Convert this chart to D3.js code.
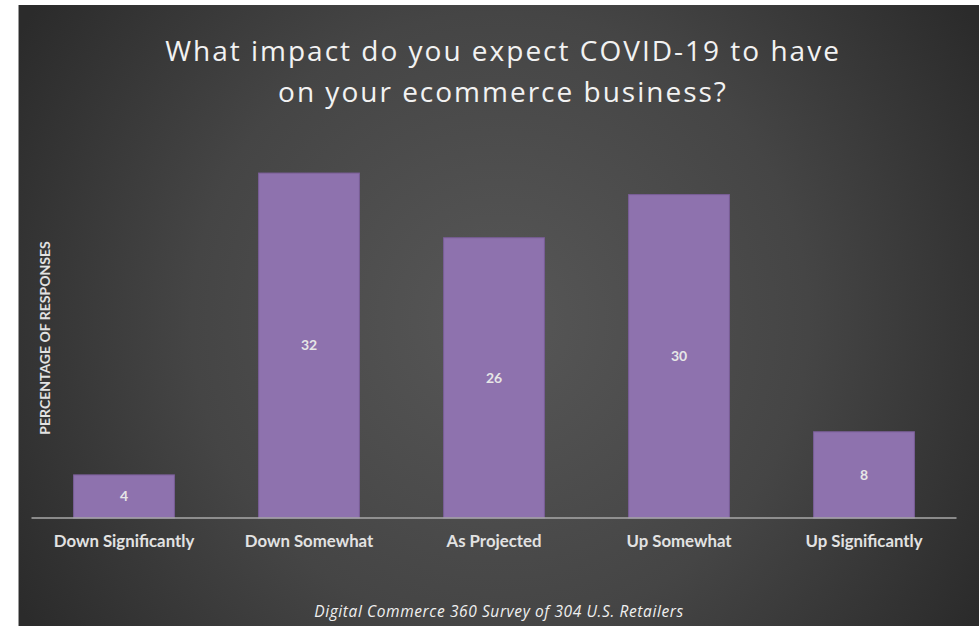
<!DOCTYPE html>
<html>
<head>
<meta charset="utf-8">
<script src="https://cdn.jsdelivr.net/npm/d3@7"></script>
<style>
  html, body { margin: 0; padding: 0; background: #ffffff; }
  svg { display: block; }
</style>
</head>
<body>
<svg id="chart" width="979" height="626"></svg>
<script>
// Survey responses (percent)
const categories = ["Down Significantly", "Down Somewhat", "As Projected", "Up Somewhat", "Up Significantly"];
const values = [4, 32, 26, 30, 8];
const titleLines = ["What impact do you expect COVID-19 to have", "on your ecommerce business?"];
const yAxisTitle = "PERCENTAGE OF RESPONSES";
const sourceNote = "Digital Commerce 360 Survey of 304 U.S. Retailers";

const W = 979, H = 626;
const svg = d3.select("#chart");

// Dark panel with a soft radial glow
const defs = svg.append("defs");
const grad = defs.append("radialGradient")
  .attr("id", "bg").attr("gradientUnits", "userSpaceOnUse")
  .attr("cx", 500).attr("cy", 320).attr("r", 560);
grad.append("stop").attr("offset", "0%").attr("stop-color", "#575757");
grad.append("stop").attr("offset", "55%").attr("stop-color", "#454545");
grad.append("stop").attr("offset", "100%").attr("stop-color", "#2b2b2b");

const panel = { x: 18, y: 5, w: W - 18, h: H - 5 };
svg.append("rect")
  .attr("x", panel.x).attr("y", panel.y)
  .attr("width", panel.w).attr("height", panel.h)
  .attr("fill", "url(#bg)");
svg.append("line")
  .attr("x1", panel.x + 0.5).attr("x2", panel.x + 0.5)
  .attr("y1", panel.y).attr("y2", H)
  .attr("stroke", "#9a9a9a").attr("stroke-width", 1);

// Scales
const plot = { left: 31.5, right: 956.5, top: 140.7, bottom: 518 };
const x = d3.scaleBand().domain(categories).range([plot.left, plot.right]).paddingInner(0.455).paddingOuter(0.2275);
const y = d3.scaleLinear().domain([0, 35]).range([plot.bottom, plot.top]);

// Bars
const bars = svg.append("g");
bars.selectAll("rect").data(values).join("rect")
  .attr("x", (d, i) => x(categories[i]))
  .attr("y", d => y(d))
  .attr("width", x.bandwidth())
  .attr("height", d => y(0) - y(d))
  .attr("fill", "#8e72ae")
  .attr("stroke", "#7a5e98")
  .attr("stroke-width", 1);

// Value labels centred inside each bar
bars.selectAll("text").data(values).join("text")
  .attr("x", (d, i) => x(categories[i]) + x.bandwidth() / 2)
  .attr("y", d => (y(d) + y(0)) / 2)
  .attr("dy", "0.35em")
  .attr("text-anchor", "middle")
  .attr("font-family", "Lato, 'Open Sans', sans-serif")
  .attr("font-weight", "bold")
  .attr("font-size", 14)
  .attr("fill", "#e6e6e6")
  .text(d => d);

// Category axis
const xAxis = svg.append("g")
  .attr("transform", `translate(0,${plot.bottom})`)
  .call(d3.axisBottom(x).tickSize(0).tickPadding(17));
xAxis.select(".domain").attr("stroke", "#a8a8a8").attr("stroke-width", 1.5)
  .attr("d", `M${plot.left},0H${plot.right}`);
xAxis.selectAll("text")
  .attr("font-family", "Lato, 'Open Sans', sans-serif")
  .attr("font-weight", "bold")
  .attr("font-size", 16.8)
  .attr("fill", "#e2e2e2");

// Title
svg.append("g").selectAll("text").data(titleLines).join("text")
  .attr("x", 503)
  .attr("y", (d, i) => 61 + i * 41)
  .attr("text-anchor", "middle")
  .attr("font-family", "'Open Sans', sans-serif")
  .attr("font-size", 28)
  .attr("letter-spacing", 2)
  .attr("fill", "#f2f2f2")
  .text(d => d);

// Y axis title
svg.append("text")
  .attr("transform", "translate(50,338) rotate(-90)")
  .attr("text-anchor", "middle")
  .attr("font-family", "Lato, 'Open Sans', sans-serif")
  .attr("font-weight", "bold")
  .attr("font-size", 14)
  .attr("fill", "#e2e2e2")
  .text(yAxisTitle);

// Source note
svg.append("text")
  .attr("x", 499).attr("y", 617)
  .attr("text-anchor", "middle")
  .attr("font-family", "'Open Sans', sans-serif")
  .attr("font-style", "italic")
  .attr("font-size", 15.5)
  .attr("letter-spacing", 0.6)
  .attr("fill", "#f0f0f0")
  .text(sourceNote);
</script>
</body>
</html>
